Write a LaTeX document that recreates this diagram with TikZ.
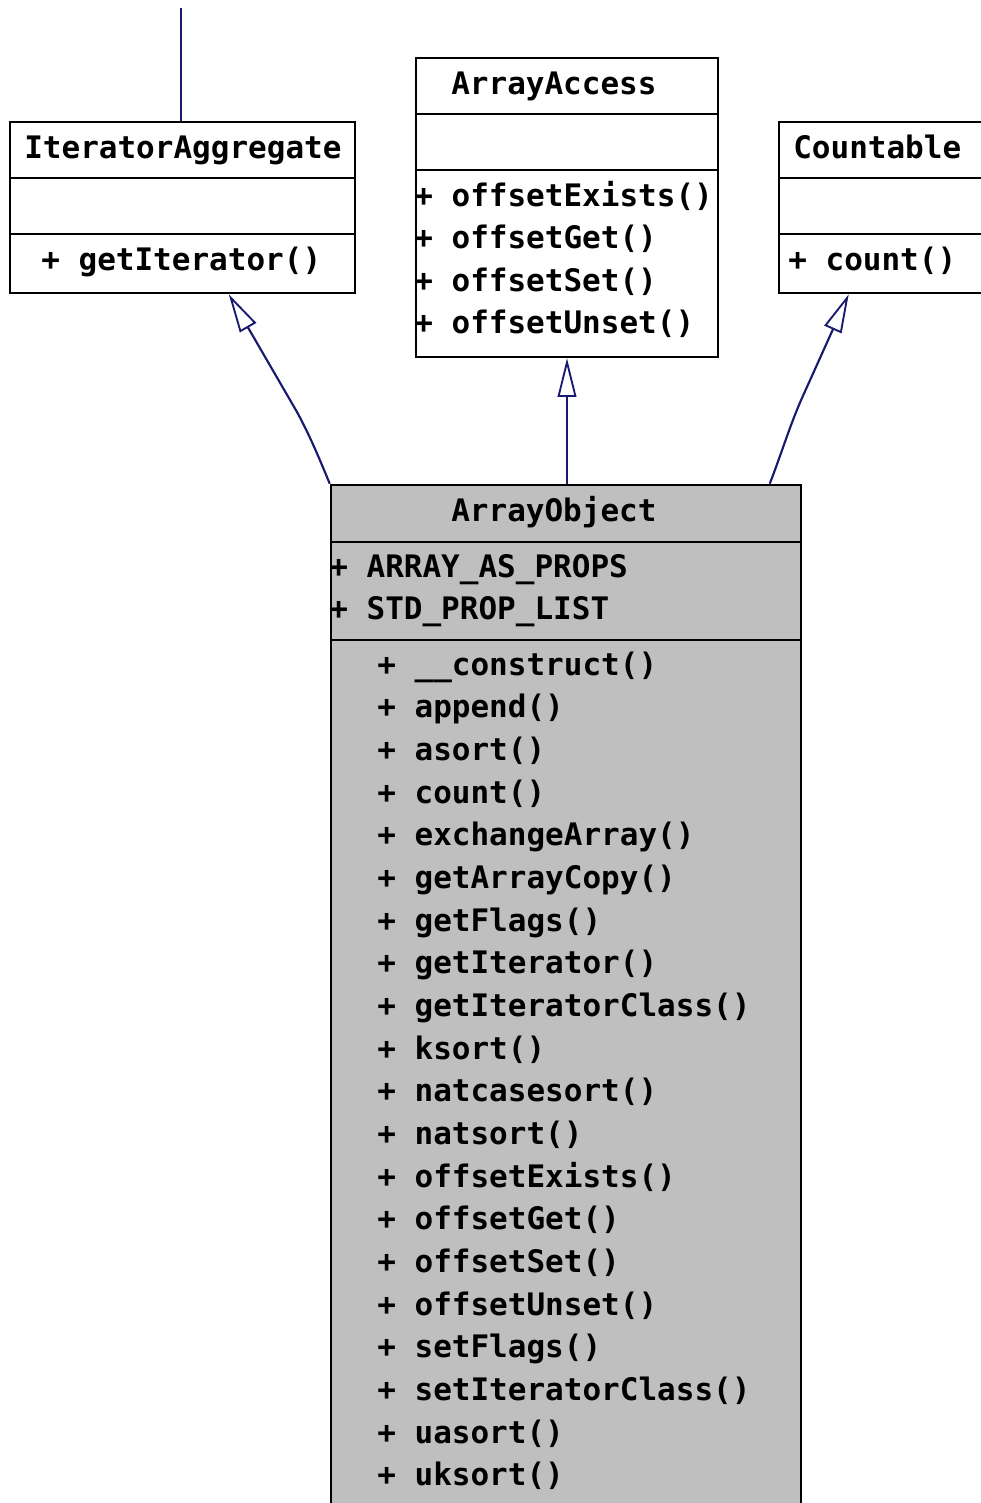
\documentclass[tikz,border=0pt]{standalone}
\usepackage{fontspec}
\newfontfamily\umlmono{DejaVu Sans Mono}
\usetikzlibrary{arrows.meta,fit,calc}
\definecolor{edgeblue}{RGB}{25,25,112}
\definecolor{aogray}{RGB}{191,191,191}
\tikzset{
  classbox/.style={draw=black,line width=1.9pt,inner sep=0pt},
  divider/.style={draw=black,line width=1.9pt},
  txt/.style={anchor=base west,inner sep=0pt,font=\umlmono\bfseries\fontsize{23.25pt}{28pt}\selectfont},
  inh/.style={draw=edgeblue,line width=1.6pt,-{Triangle[length=29pt,width=14pt,fill=white,line width=1.4pt]}},
  plainedge/.style={draw=edgeblue,line width=1.6pt}
}
\begin{document}
\begin{tikzpicture}[x=0.75pt,y=-0.75pt]
\useasboundingbox (0,0) rectangle (981,1503);
\clip (0,0) rectangle (981,1503);
\fill[white] (0,0) rectangle (981,1503);
% boxes
\node (ia) [classbox, fit={(10,122) (355,293)}] {};
\node (aa) [classbox, fit={(416,58) (718,357)}] {};
\node (ct) [classbox, fit={(779,122) (1010,293)}] {};
\node (ao) [classbox, fill=aogray, fit={(331,485) (801,1530)}] {};
% dividers
\draw[divider] (10,178) -- (355,178);
\draw[divider] (10,234) -- (355,234);
\draw[divider] (416,114) -- (718,114);
\draw[divider] (416,170) -- (718,170);
\draw[divider] (779,178) -- (1010,178);
\draw[divider] (779,234) -- (1010,234);
\draw[divider] (331,542) -- (801,542);
\draw[divider] (331,640) -- (801,640);
% texts
\node[txt] (iat) at (24,158) {IteratorAggregate};
\node[txt] (iam) at (41,270) {+ getIterator()};
\node[txt] (aat) at (451,94) {ArrayAccess};
\node[txt] (aam1) at (414,206) {+ offsetExists()};
\node[txt] (aam2) at (414,248) {+ offsetGet()};
\node[txt] (aam3) at (414,291) {+ offsetSet()};
\node[txt] (aam4) at (414,333) {+ offsetUnset()};
\node[txt] (ctt) at (793,158) {Countable};
\node[txt] (ctm) at (788,270) {+ count()};
\node[txt] (aot) at (451,521) {ArrayObject};
\node[txt] (aoa1) at (329,577) {+ ARRAY\_AS\_PROPS};
\node[txt] (aoa2) at (329,619) {+ STD\_PROP\_LIST};
\foreach \m [count=\i from 0] in {\_\_construct(),append(),asort(),count(),exchangeArray(),getArrayCopy(),getFlags(),getIterator(),getIteratorClass(),ksort(),natcasesort(),natsort(),offsetExists(),offsetGet(),offsetSet(),offsetUnset(),setFlags(),setIteratorClass(),uasort(),uksort()}
  \node[txt] (aom\i) at (377,675+\i*42.68) {+ \m};
% connectors
\coordinate (topend) at (181,8);
\draw[plainedge] (ia.north -| topend) -- (topend);
\draw[inh] (ao.north west) .. controls (318,455) and (308,432) .. (297,412) -- ($(ia.south west)+(220,0)$);
\draw[inh] (ao.north -| aa.south) -- (aa.south);
\draw[inh] ($(ao.north west)+(440,0)$) .. controls (782,452) and (790,425) .. (802,398) -- ($(ct.south west)+(71,0)$);
\end{tikzpicture}
\end{document}
